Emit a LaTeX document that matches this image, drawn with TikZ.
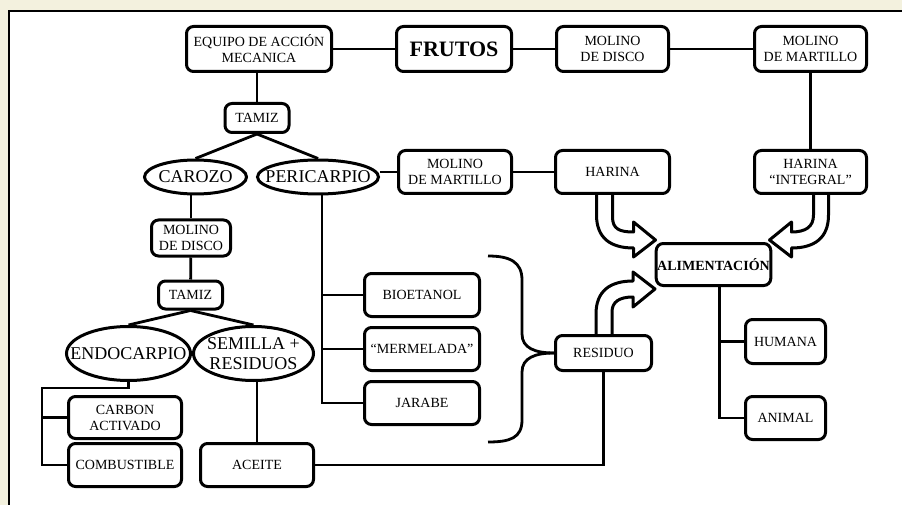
\documentclass[tikz,border=0pt]{standalone}
\usepackage{fontspec}
\setmainfont{Liberation Serif}
\usetikzlibrary{positioning,shapes.geometric}
\definecolor{paperc}{RGB}{243,241,222}
\newcommand{\tight}[1]{\makebox[0pt]{#1}}
\tikzset{
  box/.style={rectangle,rounded corners=7pt,draw=black,line width=3pt,fill=white,align=center,inner sep=1pt,font=\fontsize{14}{16}\selectfont},
  oval/.style={ellipse,draw=black,line width=3pt,fill=white,inner sep=0pt,align=center,font=\fontsize{18}{20}\selectfont},
  link/.style={line width=2.8pt,black},
  fat/.style={line width=3pt,black,line join=round},
}
\begin{document}
\begin{tikzpicture}[x=1pt,y=-1pt,node distance=8pt]
  \useasboundingbox (0,0) rectangle (902,505);
  \fill[paperc] (0,0) rectangle (902,505);
  \fill[white] (9,11) rectangle (902,505);
  \draw[line width=2.8pt] (9,505) -- (9,11) -- (902,11);

  \node[box,minimum width=145pt,minimum height=45pt] (EQ) at (259,49) {EQUIPO DE ACCIÓN\\MECANICA};
  \node[box,minimum width=115pt,minimum height=45pt,font=\fontsize{22}{24}\selectfont\bfseries] (FR) at (454,49) {FRUTOS};
  \node[box,minimum width=112pt,minimum height=45pt] (MD1) at (612.5,49) {MOLINO\\DE DISCO};
  \node[box,minimum width=112pt,minimum height=45pt] (MM1) at (810.5,49) {MOLINO\\DE MARTILLO};
  \node[box,minimum width=64pt,minimum height=29pt] (TZ1) at (257,118) {TAMIZ};
  \node[oval,minimum width=102pt,minimum height=34pt] (CAR) at (195.5,177) {\tight{CAROZO}};
  \node[oval,minimum width=121pt,minimum height=34pt] (PER) at (318,177) {\tight{PERICARPIO}};
  \node[box,minimum width=113pt,minimum height=43pt] (MM2) at (455,172) {MOLINO\\DE MARTILLO};
  \node[box,minimum width=114pt,minimum height=43pt] (HAR) at (612.5,172) {HARINA};
  \node[box,minimum width=112pt,minimum height=43pt] (INT) at (810.5,172) {HARINA\\“INTEGRAL”};
  \node[box,minimum width=79pt,minimum height=36pt] (MD2) at (191,238) {MOLINO\\DE DISCO};
  \node[box,minimum width=64pt,minimum height=28pt] (TZ2) at (190.5,295) {TAMIZ};
  \node[oval,minimum width=124pt,minimum height=54pt] (END) at (128.5,353.5) {\tight{ENDOCARPIO}};
  \node[oval,minimum width=120pt,minimum height=54pt] (SEM) at (253.5,353.5) {\tight{SEMILLA +}\\\tight{RESIDUOS}};
  \node[box,minimum width=113pt,minimum height=42pt] (CARB) at (125,417.5) {CARBON\\ACTIVADO};
  \node[box,minimum width=113pt,minimum height=43pt,below=2pt of CARB] (COMB) {COMBUSTIBLE};
  \node[box,minimum width=113pt,minimum height=43pt] (ACE) at (257,465) {ACEITE};
  \node[box,minimum width=115pt,minimum height=43pt] (BIO) at (422,295) {BIOETANOL};
  \node[box,minimum width=115pt,minimum height=43pt,below=of BIO] (MER) {“MERMELADA”};
  \node[box,minimum width=115pt,minimum height=43pt,below=of MER] (JAR) {JARABE};
  \node[box,minimum width=96pt,minimum height=35pt] (RES) at (603.5,353) {RESIDUO};
  \node[box,minimum width=114pt,minimum height=42pt,font=\fontsize{14}{16}\selectfont\bfseries] (ALI) at (713.5,264.5) {ALIMENTACIÓN};
  \node[box,minimum width=80pt,minimum height=44pt] (HUM) at (785.5,341.5) {HUMANA};
  \node[box,minimum width=80pt,minimum height=43pt,below=30pt of HUM] (ANI) {ANIMAL};

  \draw[link] (EQ) -- (FR);
  \draw[link] (FR) -- (MD1);
  \draw[link] (MD1) -- (MM1);
  \draw[link] (MM1) -- (INT);
  \draw[link] (EQ.south -| TZ1.north) -- (TZ1.north);
  \draw[link] (TZ1.south) -- (CAR.north);
  \draw[link] (TZ1.south) -- (PER.north);
  \draw[link] (MM2.west -| PER.east) -- (MM2.west);
  \draw[link] (MM2) -- (HAR);
  \draw[link] (CAR.south -| MD2.north) -- (MD2.north);
  \draw[link] (MD2) -- (TZ2);
  \draw[link] (TZ2.south) -- (END.north);
  \draw[link] (TZ2.south) -- (SEM.north);
  \coordinate (ec) at (42,388);
  \draw[link] (END.south) |- (ec) |- (COMB.west);
  \draw[link] (ec |- CARB.west) -- (CARB.west);
  \draw[link] (SEM.south -| ACE.north) -- (ACE.north);
  \coordinate (pj) at ([xshift=4pt]PER.south);
  \draw[link] (pj) |- (JAR.west);
  \draw[link] (pj |- BIO.west) -- (BIO.west);
  \draw[link] (pj |- MER.west) -- (MER.west);
  \draw[link] (ACE.east) -| (RES.south);
  \coordinate (aj) at ([xshift=6pt]ALI.south);
  \draw[link] (aj) |- (ANI.west);
  \draw[link] (aj |- HUM.west) -- (HUM.west);

  \draw[link] (RES.west) .. controls +(-19,0) and +(0,14) .. ++(-32,-19) -- ++(0,-54) .. controls +(0,-18) and +(22,0) .. ++(-34,-24);
  \draw[link] (RES.west) .. controls +(-19,0) and +(0,-14) .. ++(-32,19) -- ++(0,48) .. controls +(0,18) and +(22,0) .. ++(-34,22);

  \draw[fat] ([xshift=-16pt]HAR.south) -- ++(0,20) .. controls +(0,23) and +(-23,0) .. ++(37,33) -- ++(0,9) -- ++(22,-17) -- ++(-22,-18) -- ++(0,10) .. controls +(-14,0) and +(0,12) .. ++(-21,-15) -- (HAR.south);
  \draw[fat] ([xshift=3pt]INT.south) -- ++(0,20) .. controls +(0,12) and +(14,0) .. ++(-22,17) -- ++(0,-10) -- ++(-22,18) -- ++(22,17) -- ++(0,-9) .. controls +(23,0) and +(0,23) .. ++(37,-33) -- ([xshift=18pt]INT.south);
  \draw[fat] ([xshift=-7.5pt]RES.north) -- ++(0,-20) .. controls +(0,-23) and +(-23,0) .. ++(37,-33) -- ++(0,-9) -- ++(22,17) -- ++(-22,18) -- ++(0,-10) .. controls +(-14,0) and +(0,-10) .. ++(-21,15) -- ([xshift=8.5pt]RES.north);
\end{tikzpicture}
\end{document}
